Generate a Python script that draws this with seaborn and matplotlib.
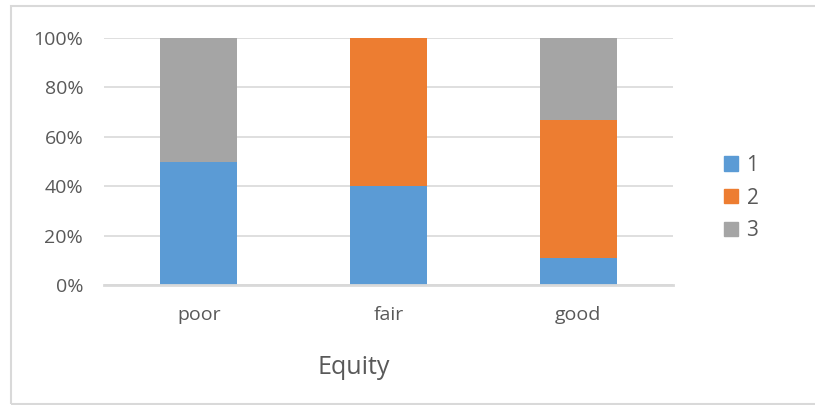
import matplotlib
matplotlib.use("Agg")
import matplotlib.pyplot as plt
import matplotlib.patches as mpatches
import numpy as np
import pandas as pd
import seaborn as sns

# 데이터 - 100% 누적 막대
categories = ["poor", "fair", "good"]
series_names = ["1", "2", "3"]
pct_1 = [50.0, 40.0, 11.1]
pct_2 = [0.0, 60.0, 55.6]
pct_3 = [50.0, 0.0, 33.3]
y_ticks = [0, 20, 40, 60, 80, 100]
x_title = "Equity"

colors = ["#5B9BD5", "#ED7D31", "#A5A5A5"]
text_color = "#595959"
grid_color = "#D9D9D9"

sns.set_style("white")
plt.rcParams["font.family"] = ["Open Sans", "DejaVu Sans"]

df = pd.DataFrame({"cat": categories, "s1": pct_1, "s2": pct_2, "s3": pct_3})
# 누적값 (위에서부터 겹쳐 그리기)
df["c1"] = df["s1"]
df["c2"] = df["s1"] + df["s2"]
df["c3"] = df["s1"] + df["s2"] + df["s3"]

fig = plt.figure(figsize=(8.15, 4.05), dpi=100)
ax = fig.add_axes([104 / 815, 1 - 285 / 405, 569 / 815, 247 / 405])

for col, c in [("c3", colors[2]), ("c2", colors[1]), ("c1", colors[0])]:
    sns.barplot(data=df, x="cat", y=col, color=c, width=0.405,
                saturation=1, linewidth=0, ax=ax, zorder=3)

ax.set_ylim(0, 100)
ax.set_xlim(-0.5, 2.5)
ax.set_yticks(y_ticks)
ax.set_yticklabels([f"{t}%" for t in y_ticks])
ax.yaxis.grid(True, color=grid_color, linewidth=1.2, zorder=0)
ax.set_axisbelow(True)
for s in ["top", "right", "left"]:
    ax.spines[s].set_visible(False)
ax.spines["bottom"].set_color(grid_color)
ax.spines["bottom"].set_linewidth(2)
ax.spines["bottom"].set_zorder(4)
ax.tick_params(axis="both", length=0, colors=text_color, labelsize=14)
ax.tick_params(axis="x", pad=15)
ax.tick_params(axis="y", pad=15)
ax.set_xlabel("")
ax.set_ylabel("")

fig.text(354 / 815, 1 - 367 / 405, x_title, ha="center", va="center",
         fontsize=18, color=text_color)

handles = [mpatches.Patch(color=c, label=n) for c, n in zip(colors, series_names)]
fig.legend(handles=handles, loc="center left",
           bbox_to_anchor=(724 / 815, 1 - 198 / 405), frameon=False,
           fontsize=15, labelcolor=text_color, handlelength=0.68,
           handleheight=0.68, handletextpad=0.4, labelspacing=0.56,
           borderpad=0, borderaxespad=0)

# 차트 테두리
fig.patches.append(mpatches.Rectangle((11 / 815, 1.5 / 405), 810 / 815, 398 / 405,
                                      transform=fig.transFigure, fill=False,
                                      edgecolor=grid_color, linewidth=1.5))

fig.savefig("out.png", dpi=100, facecolor="white")
